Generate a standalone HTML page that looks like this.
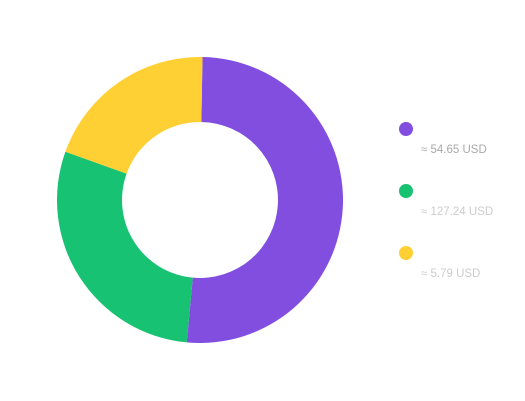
<!DOCTYPE html>
<html><head><meta charset="utf-8"><style>
body{margin:0;background:#fff;font-family:"Liberation Sans",sans-serif;}
#wrap{position:relative;width:525px;height:401px;overflow:hidden}
.leg{position:absolute;left:399px;}
.dot{width:14px;height:14px;border-radius:50%;position:absolute;left:0;top:0}
.val{position:absolute;left:22px;top:22px;font-size:11.5px;white-space:nowrap}
</style></head><body>
<div id="wrap">
<svg id="svg" width="525" height="401"></svg>
<div id="legend"></div>
</div>
<script>
const labels=["≈ 54.65 USD","≈ 127.24 USD","≈ 5.79 USD"];
const shares=[51.2,29.0,19.8];
const colors=["#814ee0","#17c272","#ffd033"];
const textColors=["#aaa","#ccc","#ccc"];
const cx=200,cy=200,R=143,r=78,start=1;
const svg=document.getElementById('svg');const NS="http://www.w3.org/2000/svg";
const total=shares.reduce((a,b)=>a+b,0);
function pt(rad,deg){const a=(deg-90)*Math.PI/180;return [cx+rad*Math.cos(a),cy+rad*Math.sin(a)];}
let ang=start;
shares.forEach((v,i)=>{
 const sweep=v/total*360,a0=ang,a1=ang+sweep;ang=a1;
 const lg=sweep>180?1:0;
 const [x0,y0]=pt(R,a0),[x1,y1]=pt(R,a1),[x2,y2]=pt(r,a1),[x3,y3]=pt(r,a0);
 const p=document.createElementNS(NS,'path');
 p.setAttribute('d',`M${x0},${y0}A${R},${R} 0 ${lg} 1 ${x1},${y1}L${x2},${y2}A${r},${r} 0 ${lg} 0 ${x3},${y3}Z`);
 p.setAttribute('fill',colors[i]);
 
 
 svg.appendChild(p);
});
const leg=document.getElementById('legend');
labels.forEach((t,i)=>{
 const d=document.createElement('div');d.className='leg';d.style.top=(122+i*62)+'px';
 
 
 d.innerHTML=`<div class="dot" style="background:${colors[i]}"></div><div class="val" style="color:${textColors[i]}">${t}</div>`;
 leg.appendChild(d);
});
</script>
</body></html>
